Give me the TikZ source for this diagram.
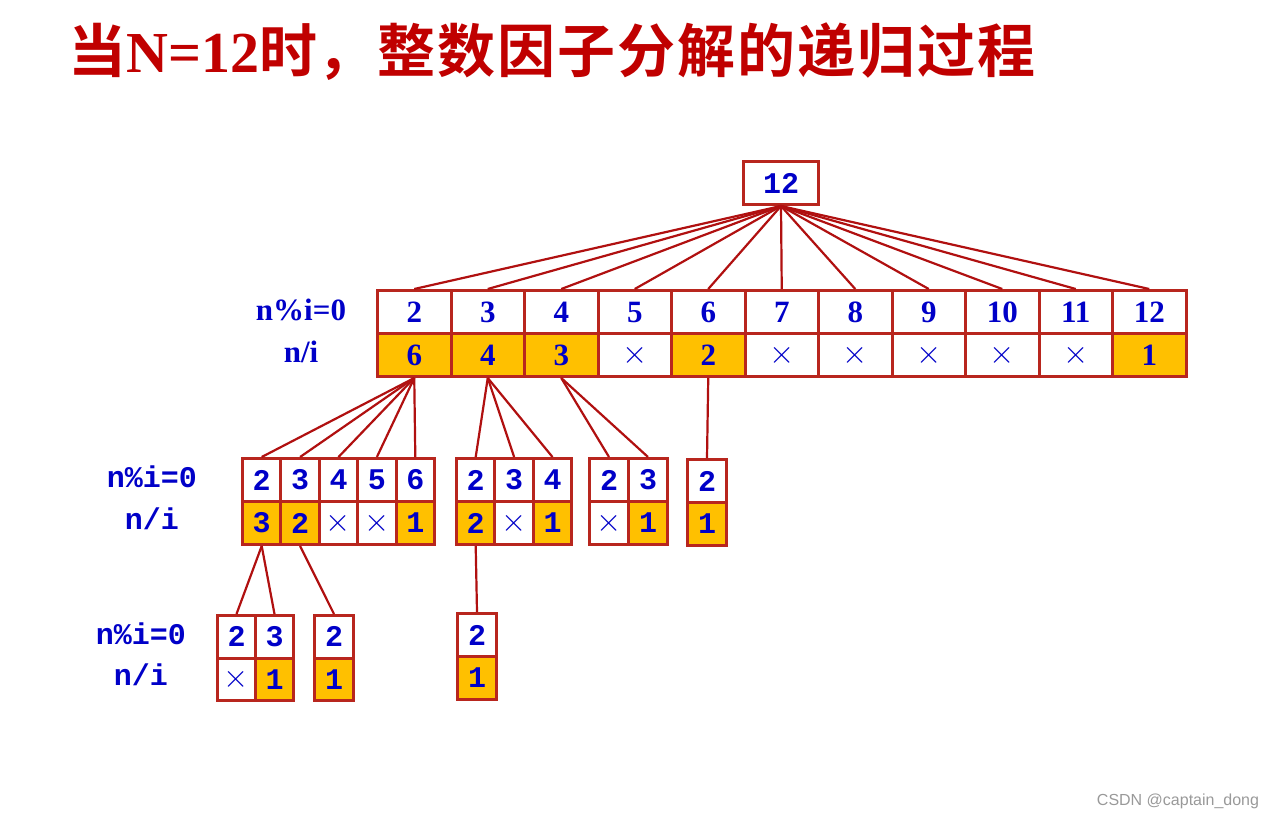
\documentclass[tikz,border=0pt]{standalone}
\usepackage{fontspec}
\setmainfont{Liberation Serif}[BoldFont={Liberation Serif Bold}]
\setmonofont{Liberation Mono}[BoldFont={Liberation Mono Bold}]
\setsansfont{Liberation Sans}
\newfontfamily\cjk{Noto Sans CJK SC}[BoldFont={Noto Sans CJK SC Bold}]
\definecolor{bred}{HTML}{B8261E}
\definecolor{lred}{HTML}{B01010}
\definecolor{tblue}{HTML}{0000C8}
\definecolor{org}{HTML}{FFC000}
\definecolor{tred}{HTML}{C00000}
\newcommand{\xx}{\scalebox{1.3}{$\times$}}
\tikzset{
 cell/.style={draw=bred,line width=3pt,rectangle,inner sep=0pt,anchor=north west,text=tblue},
 sf/.style={font=\bfseries\fontsize{31}{31}\selectfont},
 mf/.style={font=\ttfamily\bfseries\fontsize{30}{30}\selectfont},
 on/.style={fill=org},
 off/.style={fill=white},
 lab/.style={text=tblue,inner sep=0pt},
 ln/.style={draw=lred,line width=2.2pt},
}
% name, x, ytop, w, h, top text, bottom text, fill style, font style
\newcommand{\bcol}[9]{%
 \node[cell,#9,fill=white,minimum width=#4pt,minimum height=#5pt] (#1t) at ({#2},{#3}) {#6};
 \node[cell,#9,#8,minimum width=#4pt,minimum height=#5pt] (#1b) at ({#2},{#3+#5}) {#7};
}
\begin{document}
\begin{tikzpicture}[x=1pt,y=-1pt]
\useasboundingbox (0,0) rectangle (1279,820);
\node[anchor=west,text=tred,inner sep=0pt] (title) at (68,52) {\bfseries\fontsize{58}{58}\selectfont{\cjk 当}N=12{\cjk 时，\hspace{2pt}整\hspace{2pt}数\hspace{2pt}因\hspace{2pt}子\hspace{2pt}分\hspace{2pt}解\hspace{2pt}的\hspace{2pt}递\hspace{2pt}归\hspace{2pt}过\hspace{2pt}程}};
% root
\node[cell,mf,fill=white,minimum width=75pt,minimum height=43pt] (r) at (742,160) {12};
% row 1
\foreach \i/\n/\v/\f in {1/2/6/on,2/3/4/on,3/4/3/on,4/5/\xx/off,5/6/2/on,6/7/\xx/off,7/8/\xx/off,8/9/\xx/off,9/10/\xx/off,10/11/\xx/off,11/12/1/on}{
 \bcol{a\i}{376+73.5*(\i-1)}{289}{73.5}{43}{\n}{\v}{\f}{sf}
 \draw[ln] (r.south) -- (a\i t.north);
}
\node[lab,sf] (l1) at (301,310) {n\%i=0};
\node[lab,sf] (l2) at (301,352) {n/i};
% row 2
\foreach \i/\n/\v/\f in {1/2/3/on,2/3/2/on,3/4/\xx/off,4/5/\xx/off,5/6/1/on}{
 \bcol{b\i}{241+38.4*(\i-1)}{457}{38.4}{43}{\n}{\v}{\f}{mf}
 \draw[ln] (a1b.south) -- (b\i t.north);
}
\foreach \i/\n/\v/\f in {1/2/2/on,2/3/\xx/off,3/4/1/on}{
 \bcol{c\i}{455+38.4*(\i-1)}{457}{38.4}{43}{\n}{\v}{\f}{mf}
 \draw[ln] (a2b.south) -- (c\i t.north);
}
\foreach \i/\n/\v/\f in {1/2/\xx/off,2/3/1/on}{
 \bcol{d\i}{588+39*(\i-1)}{457}{39}{43}{\n}{\v}{\f}{mf}
 \draw[ln] (a3b.south) -- (d\i t.north);
}
\bcol{e}{686}{458}{39}{43}{2}{1}{on}{mf}
\draw[ln] (a5b.south) -- (et.north);
\node[lab,mf] (l3) at (152,477) {n\%i=0};
\node[lab,mf] (l4) at (152,519) {n/i};
% row 3
\foreach \i/\n/\v/\f in {1/2/\xx/off,2/3/1/on}{
 \bcol{f\i}{216+38*(\i-1)}{614}{38}{42.5}{\n}{\v}{\f}{mf}
 \draw[ln] (b1b.south) -- (f\i t.north);
}
\bcol{g}{313}{614}{39}{42.5}{2}{1}{on}{mf}
\draw[ln] (b2b.south) -- (gt.north);
\bcol{h}{456}{612}{39}{43}{2}{1}{on}{mf}
\draw[ln] (c1b.south) -- (ht.north);
\node[lab,mf] (l5) at (141,634) {n\%i=0};
\node[lab,mf] (l6) at (141,675) {n/i};
\node[text=gray!80,font=\sffamily\fontsize{16}{16}\selectfont,inner sep=0pt] (wm) at (1178,801) {CSDN @captain\_dong};
\end{tikzpicture}
\end{document}
